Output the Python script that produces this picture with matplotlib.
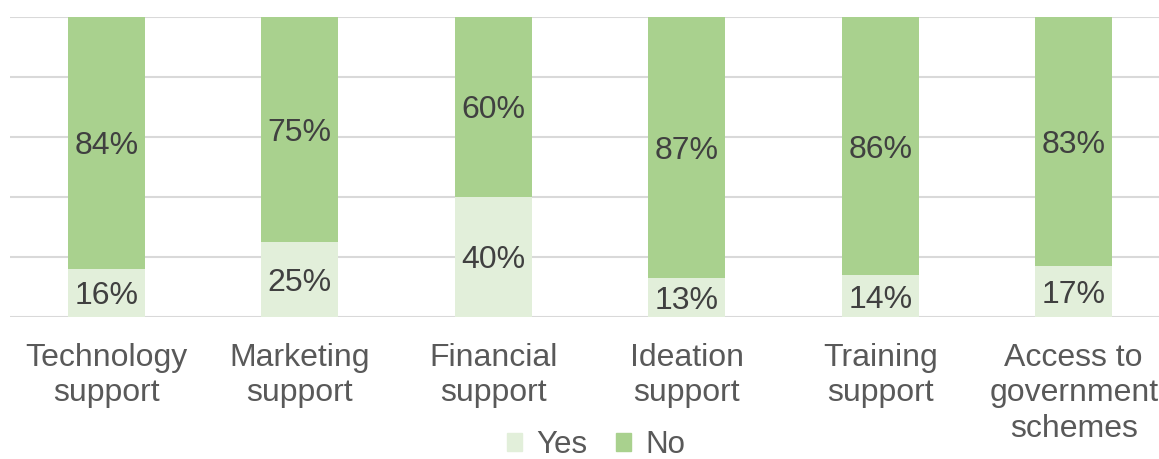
import matplotlib.pyplot as plt
from matplotlib.patches import Patch

# Data
categories = ["Technology\nsupport", "Marketing\nsupport", "Financial\nsupport",
              "Ideation\nsupport", "Training\nsupport", "Access to\ngovernment\nschemes"]
yes_values = [16, 25, 40, 13, 14, 17]
no_values = [84, 75, 60, 87, 86, 83]

yes_color = "#E2EFDA"
no_color = "#A9D18E"

plt.rcParams['font.family'] = ['Liberation Sans', 'DejaVu Sans']

fig = plt.figure(figsize=(11.59, 4.59), dpi=100)
# axes extends a little past the right edge, like the source crop
ax = fig.add_axes([9.5 / 1159, 142 / 459, 1161 / 1159, 300 / 459])

x = range(len(categories))
ax.bar(x, yes_values, width=0.4, color=yes_color, zorder=2)
ax.bar(x, no_values, width=0.4, bottom=yes_values, color=no_color, zorder=2)

# Value labels in the middle of each segment
for i in x:
    ax.text(i, yes_values[i] / 2, f"{yes_values[i]}%", ha='center', va='center_baseline',
            fontsize=23, color="#404040", zorder=3)
    ax.text(i, yes_values[i] + no_values[i] / 2, f"{no_values[i]}%", ha='center',
            va='center_baseline', fontsize=23, color="#404040", zorder=3)

ax.set_xlim(-0.5, len(categories) - 0.5)
ax.set_ylim(0, 100)
ax.set_yticks([0, 20, 40, 60, 80, 100])
ax.yaxis.grid(True, color="#D9D9D9", linewidth=1.5, zorder=0)
ax.set_yticklabels([])
ax.tick_params(axis='y', length=0)
ax.tick_params(axis='x', length=0, pad=19, labelsize=23, labelcolor="#595959")
ax.set_xticks(list(x))
ax.set_xticklabels(categories, linespacing=1.22)
for s in ax.spines.values():
    s.set_visible(False)

handles = [Patch(color=yes_color, label="Yes"), Patch(color=no_color, label="No")]
fig.legend(handles=handles, loc='center', bbox_to_anchor=(596 / 1159, 14 / 459),
           ncol=2, frameon=False, fontsize=22.5, handlelength=0.5, handleheight=0.5,
           handletextpad=0.45, columnspacing=0.9, labelcolor="#595959",
           borderpad=0.0)

fig.savefig("out.png", dpi=100)
